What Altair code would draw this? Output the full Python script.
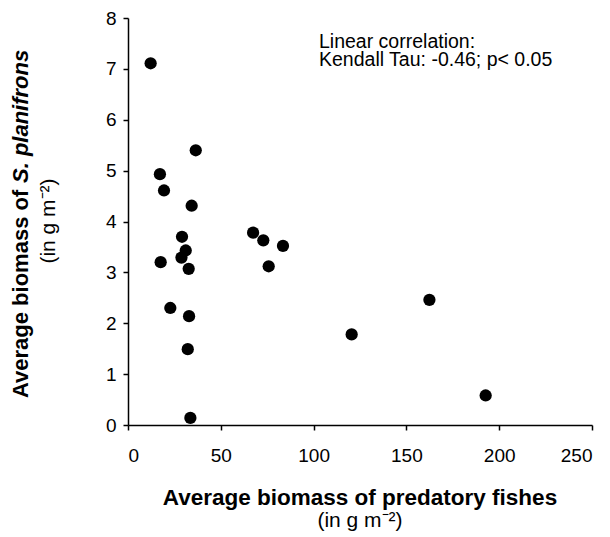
import altair as alt
import pandas as pd

# Data
predator_biomass = [12.2, 36.5, 17.2, 19.4, 34.3, 29.1, 31.1, 28.8, 17.6, 32.7,
                    22.8, 32.9, 32.2, 33.6, 67.4, 72.9, 83.5, 75.8, 162.4, 120.5, 192.7]
planifrons_biomass = [7.11, 5.40, 4.93, 4.61, 4.31, 3.70, 3.43, 3.29, 3.20, 3.07,
                      2.30, 2.14, 1.49, 0.14, 3.78, 3.63, 3.52, 3.12, 2.46, 1.78, 0.58]
x_ticks = [0, 50, 100, 150, 200, 250]
y_ticks = [0, 1, 2, 3, 4, 5, 6, 7, 8]

FONT = "Liberation Sans"

df = pd.DataFrame({"x": predator_biomass, "y": planifrons_biomass})

points = alt.Chart(df).mark_circle(size=150, color="black", opacity=1).encode(
    x=alt.X("x:Q", scale=alt.Scale(domain=[0, 250], nice=False),
            axis=alt.Axis(values=x_ticks, title=None, labelPadding=16)),
    y=alt.Y("y:Q", scale=alt.Scale(domain=[0, 8], nice=False),
            axis=alt.Axis(values=y_ticks, title=None, labelPadding=7)),
)

def txt(s, x, y, size, weight="normal", style="normal", angle=0, align="left", baseline="alphabetic"):
    params = dict(text=s, font=FONT, fontSize=size, fontWeight=weight, fontStyle=style,
                  align=align, baseline=baseline, color="black")
    if angle:
        params["angle"] = angle
    return alt.Chart(pd.DataFrame({"a": [0]})).mark_text(**params).encode(
        x=alt.value(x), y=alt.value(y))

annot1 = txt("Linear correlation:", 191, 30, 19.5)
annot2 = txt("Kendall Tau: -0.46; p< 0.05", 191, 48, 19.5)

xt1 = txt("Average biomass of predatory fishes", 232, 487, 22.5, weight="bold", align="center")
xt2 = txt("(in g m\u207b\u00b2)", 232, 509, 21, align="center")

yt1 = txt("Average biomass of", -100, 380, 22, weight="bold", angle=270, align="left")
yt2 = txt("S. planifrons", -100, 165, 22, weight="bold", style="italic", angle=270, align="left")
yt3 = txt("(in g m\u207b\u00b2)", -73, 203, 21, angle=270, align="center")

chart = alt.layer(points, annot1, annot2, xt1, xt2, yt1, yt2, yt3).properties(
    width=464, height=407,
    autosize=alt.AutoSizeParams(type="none"),
    padding={"left": 120, "top": 10, "right": 10, "bottom": 107},
).configure_view(stroke=None).configure_axis(
    grid=False, domainColor="black", tickColor="black", labelColor="black",
    domainWidth=1.5, tickWidth=1.5, tickSize=5, labelFont=FONT, labelFontSize=19,
)

chart.save("out.html", embed_options={"renderer": "svg", "actions": False})
